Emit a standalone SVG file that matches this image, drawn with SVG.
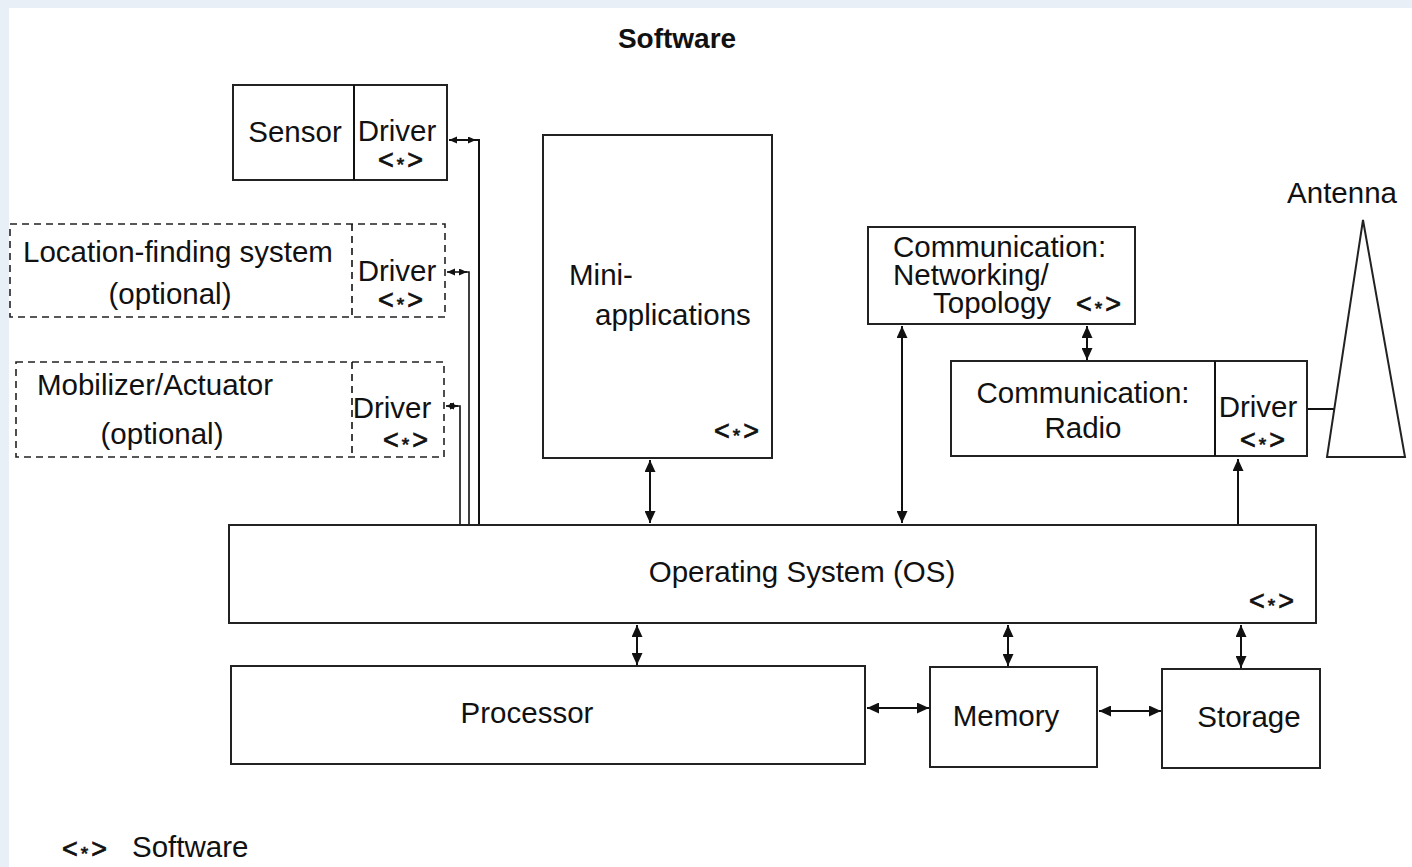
<svg xmlns="http://www.w3.org/2000/svg" width="1412" height="867" viewBox="0 0 1412 867">
<defs>
<style>
text{font-family:"Liberation Sans",Arial,Helvetica,sans-serif;fill:#111;}
.t{font-size:29.5px;}
.tb{font-size:28px;font-weight:bold;}
.sw{font-size:27px;letter-spacing:3px;stroke:#111;stroke-width:0.7px;}
.box{fill:#fff;stroke:#222;stroke-width:2;}
.dbox{fill:#fff;stroke:#222;stroke-width:1.6;stroke-dasharray:7 5;}
.ln{fill:none;stroke:#111;stroke-width:2;}
.ln2{fill:none;stroke:#111;stroke-width:1.6;}
</style>
<marker id="ah" markerUnits="userSpaceOnUse" markerWidth="13" markerHeight="11" refX="12" refY="5.5" orient="auto-start-reverse">
<path d="M0,0 L12,5.5 L0,11 z" fill="#111"/>
</marker>
<marker id="as" markerUnits="userSpaceOnUse" markerWidth="9" markerHeight="8" refX="8" refY="3.5" orient="auto-start-reverse">
<path d="M0,0 L8,3.5 L0,7 z" fill="#111"/>
</marker>
</defs>
<rect x="0" y="0" width="1412" height="867" fill="#e9eff7"/>
<rect x="9" y="8" width="1403" height="859" fill="#fff"/>

<text class="tb" x="677" y="48" text-anchor="middle">Software</text>

<g id="connectors">
<path class="ln" d="M479,524 V140 H470"/>
<line class="ln" x1="449" y1="140" x2="476" y2="140" marker-start="url(#as)" marker-end="url(#as)"/>
<path class="ln2" d="M469,524 V272 H462"/>
<line class="ln2" x1="447" y1="272" x2="467" y2="272" marker-start="url(#as)" marker-end="url(#as)"/>
<path class="ln2" d="M460,524 V406 H454"/>
<line class="ln2" x1="446" y1="406" x2="458" y2="406" marker-start="url(#as)" marker-end="url(#as)"/>
<line class="ln" x1="650" y1="460" x2="650" y2="523" marker-start="url(#ah)" marker-end="url(#ah)"/>
<line class="ln" x1="902" y1="326" x2="902" y2="523" marker-start="url(#ah)" marker-end="url(#ah)"/>
<line class="ln" x1="1087" y1="326" x2="1087" y2="360" marker-start="url(#ah)" marker-end="url(#ah)"/>
<line class="ln" x1="1238" y1="524" x2="1238" y2="459" marker-end="url(#ah)"/>
<line class="ln" x1="1307" y1="409" x2="1334" y2="409"/>
<line class="ln" x1="637" y1="625" x2="637" y2="665" marker-start="url(#ah)" marker-end="url(#ah)"/>
<line class="ln" x1="1008" y1="625" x2="1008" y2="666" marker-start="url(#ah)" marker-end="url(#ah)"/>
<line class="ln" x1="1241" y1="625" x2="1241" y2="668" marker-start="url(#ah)" marker-end="url(#ah)"/>
<line class="ln" x1="867" y1="708" x2="929" y2="708" marker-start="url(#ah)" marker-end="url(#ah)"/>
<line class="ln" x1="1099" y1="711" x2="1161" y2="711" marker-start="url(#ah)" marker-end="url(#ah)"/>
</g>

<g id="sensor">
<rect class="box" x="233" y="85" width="214" height="95"/>
<line class="ln" x1="354" y1="85" x2="354" y2="180"/>
<text class="t" x="295" y="142" text-anchor="middle">Sensor</text>
<text class="t" x="397" y="141" text-anchor="middle">Driver</text>
<text class="sw" x="402" y="169" text-anchor="middle">&lt;<tspan dy="2" font-size="19">*</tspan><tspan dy="-2">&gt;</tspan></text>
</g>

<g id="location">
<rect class="dbox" x="10" y="224" width="435" height="93"/>
<line class="ln2" x1="352" y1="224" x2="352" y2="317" stroke-dasharray="7 5"/>
<text class="t" x="178" y="262" text-anchor="middle">Location-finding system</text>
<text class="t" x="170" y="304" text-anchor="middle">(optional)</text>
<text class="t" x="397" y="281" text-anchor="middle">Driver</text>
<text class="sw" x="402" y="309" text-anchor="middle">&lt;<tspan dy="2" font-size="19">*</tspan><tspan dy="-2">&gt;</tspan></text>
</g>

<g id="mobilizer">
<rect class="dbox" x="16" y="362" width="428" height="95"/>
<line class="ln2" x1="352" y1="362" x2="352" y2="457" stroke-dasharray="7 5"/>
<text class="t" x="155" y="395" text-anchor="middle">Mobilizer/Actuator</text>
<text class="t" x="162" y="444" text-anchor="middle">(optional)</text>
<text class="t" x="392" y="418" text-anchor="middle">Driver</text>
<text class="sw" x="407" y="449" text-anchor="middle">&lt;<tspan dy="2" font-size="19">*</tspan><tspan dy="-2">&gt;</tspan></text>
</g>

<g id="mini-applications">
<rect class="box" x="543" y="135" width="229" height="323"/>
<text class="t" x="569" y="285">Mini-</text>
<text class="t" x="595" y="325">applications</text>
<text class="sw" x="738" y="440" text-anchor="middle">&lt;<tspan dy="2" font-size="19">*</tspan><tspan dy="-2">&gt;</tspan></text>
</g>

<g id="comm-networking">
<rect class="box" x="868" y="227" width="267" height="97"/>
<text class="t" x="893" y="257">Communication:</text>
<text class="t" x="893" y="285">Networking/</text>
<text class="t" x="933" y="313">Topology</text>
<text class="sw" x="1100" y="313" text-anchor="middle">&lt;<tspan dy="2" font-size="19">*</tspan><tspan dy="-2">&gt;</tspan></text>
</g>

<g id="comm-radio">
<rect class="box" x="951" y="361" width="356" height="95"/>
<line class="ln" x1="1215" y1="361" x2="1215" y2="456"/>
<text class="t" x="1083" y="403" text-anchor="middle">Communication:</text>
<text class="t" x="1083" y="438" text-anchor="middle">Radio</text>
<text class="t" x="1258" y="417" text-anchor="middle">Driver</text>
<text class="sw" x="1264" y="449" text-anchor="middle">&lt;<tspan dy="2" font-size="19">*</tspan><tspan dy="-2">&gt;</tspan></text>
</g>

<g id="antenna">
<text class="t" x="1342" y="203" text-anchor="middle">Antenna</text>
<polygon points="1363,220 1327,457 1405,457" fill="#fff" stroke="#222" stroke-width="2"/>
</g>

<g id="os">
<rect class="box" x="229" y="525" width="1087" height="98"/>
<text class="t" x="802" y="582" text-anchor="middle">Operating System (OS)</text>
<text class="sw" x="1273" y="610" text-anchor="middle">&lt;<tspan dy="2" font-size="19">*</tspan><tspan dy="-2">&gt;</tspan></text>
</g>

<g id="processor">
<rect class="box" x="231" y="666" width="634" height="98"/>
<text class="t" x="527" y="723" text-anchor="middle">Processor</text>
</g>

<g id="memory">
<rect class="box" x="930" y="667" width="167" height="100"/>
<text class="t" x="1006" y="726" text-anchor="middle">Memory</text>
</g>

<g id="storage">
<rect class="box" x="1162" y="669" width="158" height="99"/>
<text class="t" x="1249" y="727" text-anchor="middle">Storage</text>
</g>

<g id="legend">
<text class="sw" x="86" y="858" text-anchor="middle">&lt;<tspan dy="2" font-size="19">*</tspan><tspan dy="-2">&gt;</tspan></text>
<text class="t" x="132" y="857">Software</text>
</g>
</svg>
